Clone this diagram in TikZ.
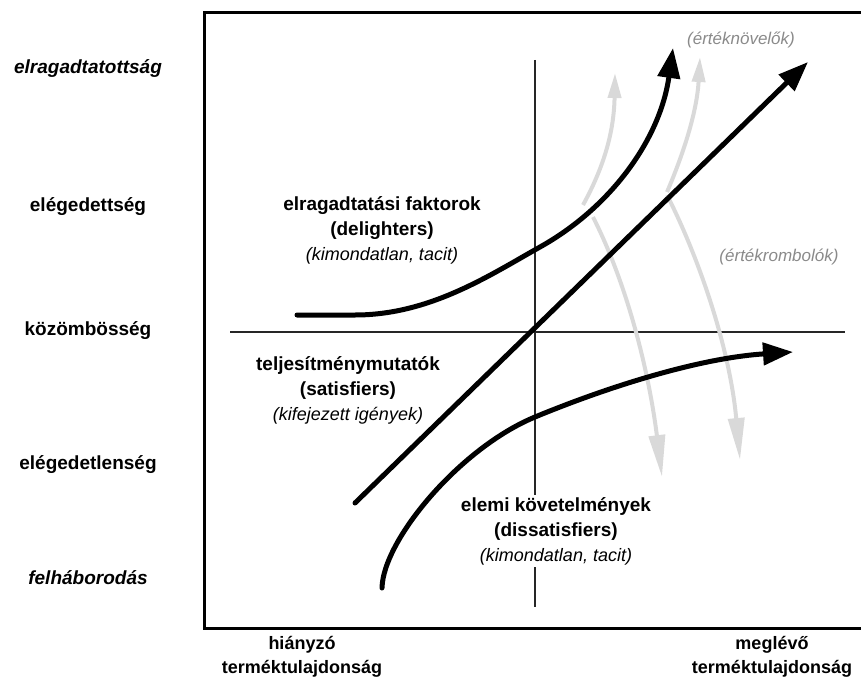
\documentclass[tikz,border=0pt]{standalone}
\usepackage{fontspec}
\setmainfont{Liberation Sans}
\usetikzlibrary{arrows.meta}
\definecolor{lightarrow}{HTML}{D9D9D9}
\definecolor{graytext}{HTML}{8A8A8A}
\begin{document}
\begin{tikzpicture}[x=1pt,y=-1pt,
  frameline/.style={line width=3pt},
  axisline/.style={line width=2.8pt, draw=black!85},
  curve/.style={line width=5pt, line cap=round, -{Triangle[length=30pt,width=22pt]}},
  valueup/.style={line width=4pt, draw=lightarrow, -{Triangle[length=25pt,width=13pt]}},
  valuedown/.style={line width=4pt, draw=lightarrow, -{Triangle[length=42pt,width=16pt]}},
  levellabel/.style={font=\fontsize{19}{23}\selectfont\bfseries},
  extremelabel/.style={font=\fontsize{19}{23}\selectfont\bfseries\itshape},
  classlabel/.style={align=center, font=\fontsize{19}{25}\selectfont\bfseries, inner sep=2pt},
  valuelabel/.style={font=\fontsize{17}{20}\selectfont\itshape, text=graytext},
  axislabel/.style={align=center, font=\fontsize{18}{24}\selectfont\bfseries},
]
\useasboundingbox (0,0) rectangle (861,682);

% frame (right edge lies past the page)
\draw[frameline] (204,13) rectangle (880,628);

% axes
\coordinate (vtop) at (535,60);
\coordinate (vbot) at (535,607);
\coordinate (hleft) at (230,332);
\coordinate (hright) at (845,332);
\draw[axisline] (vtop) -- (vbot);
\draw[axisline] (hleft) -- (hright);

% value-adding (up) and value-destroying (down) shifts
\coordinate (au1) at (583,205);   \coordinate (at1) at (615,73);
\coordinate (ad1) at (593,217);   \coordinate (ab1) at (662,477);
\coordinate (au2) at (667,192);   \coordinate (at2) at (700,57);
\coordinate (ad2) at (667,195);   \coordinate (ab2) at (740,460);
\draw[valueup] (au1) .. controls (605,165) and (614,130) .. (at1);
\draw[valuedown] (ad1) .. controls (630,290) and (650,380) .. (ab1);
\draw[valueup] (au2) .. controls (685,150) and (697,110) .. (at2);
\draw[valuedown] (ad2) .. controls (700,260) and (730,350) .. (ab2);

% delighters
\coordinate (dstart) at (297,315);
\coordinate (dflat) at (355,315);
\coordinate (dmid) at (540,247);
\coordinate (dend) at (673,48);
\draw[curve] (dstart) -- (dflat) .. controls (430,315) and (490,275) .. (dmid)
  .. controls (610,208) and (660,140) .. (dend);
% satisfiers
\coordinate (sstart) at (355,503);
\coordinate (send) at (808,62);
\draw[curve] (sstart) -- (send);
% dissatisfiers
\coordinate (xstart) at (382,588);
\coordinate (xmid) at (535,417);
\coordinate (xend) at (793,352);
\draw[curve] (xstart) .. controls (383,540) and (460,448) .. (xmid)
  .. controls (610,386) and (700,358) .. (xend);

% vertical scale
\node[extremelabel] (delight) at (88,69) {elragadtatottság};
\node[levellabel] (satisf) at (88,207) {elégedettség};
\node[levellabel] (indiff) at (88,331) {közömbösség};
\node[levellabel] (dissat) at (88,465) {elégedetlenség};
\node[extremelabel] (outrage) at (88,578) {felháborodás};

% horizontal scale
\node[axislabel] (missing) at (302,657) {hiányzó\\terméktulajdonság};
\node[axislabel] (present) at (772,657) {meglévő\\terméktulajdonság};

% curve labels
\node[classlabel] (dlabel) at (382,230) {elragadtatási faktorok\\(delighters)\\{\fontsize{18}{25}\selectfont\mdseries\itshape (kimondatlan, tacit)}};
\node[classlabel] (slabel) at (348,390) {teljesítménymutatók\\(satisfiers)\\{\fontsize{18}{25}\selectfont\mdseries\itshape (kifejezett igények)}};
\node[classlabel, fill=white] (dslabel) at (556,531) {elemi követelmények\\(dissatisfiers)\\{\fontsize{18}{25}\selectfont\mdseries\itshape (kimondatlan, tacit)}};

\node[valuelabel] (adders) at (741,40) {(értéknövelők)};
\node[valuelabel] (destroyers) at (779,257) {(értékrombolók)};
\end{tikzpicture}
\end{document}
